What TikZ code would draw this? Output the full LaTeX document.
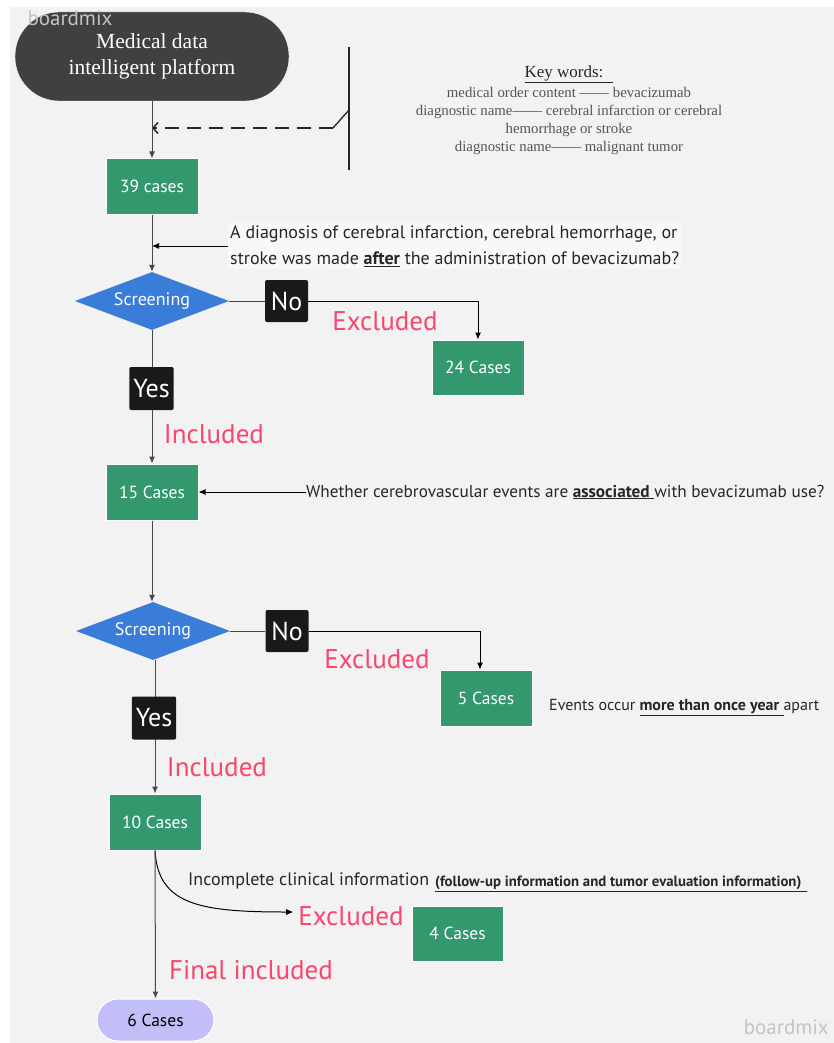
\documentclass[tikz,border=0pt]{standalone}
\usepackage{fontspec}
\setmainfont{PT Sans}
\newfontfamily\kwfont{Liberation Serif}
\usetikzlibrary{shapes.geometric, arrows.meta}
\definecolor{bggray}{HTML}{F2F2F2}
\definecolor{boxgreen}{HTML}{33986D}
\definecolor{diamblue}{HTML}{3A7DD8}
\definecolor{darkpill}{HTML}{404040}
\definecolor{exred}{HTML}{F8466C}
\definecolor{lavender}{HTML}{C2BFF8}
\definecolor{linegray}{HTML}{484848}
\definecolor{markgray}{HTML}{C4C4C4}
\definecolor{textdark}{HTML}{262626}
\definecolor{kwgray}{HTML}{555555}
\definecolor{hilite}{HTML}{F8F8FB}

\begin{document}
\begin{tikzpicture}[x=1pt, y=-1pt, every node/.style={inner sep=0pt},
             casebox/.style={draw=white, line width=1pt, fill=boxgreen, text=white,
                             minimum width=92pt, minimum height=56pt,
                             font=\fontsize{17.5}{20}\selectfont},
             screen/.style={shape=diamond, aspect=2.65, fill=diamblue, text=white,
                            minimum width=154pt, minimum height=58pt,
                            font=\fontsize{18}{20}\selectfont},
             answer/.style={fill=black!90, text=white, rounded corners=2pt, inner xsep=4pt,
                            minimum width=43pt, minimum height=42pt,
                            font=\fontsize{26}{28}\selectfont},
             outcome/.style={text=exred, font=\fontsize{27}{30}\selectfont},
             note/.style={text=textdark, align=left},
             flow/.style={draw=linegray, line width=1pt, -{Latex[length=7pt,width=6pt]}},
             link/.style={draw=linegray, line width=1pt}]
\useasboundingbox (0,0) rectangle (834,1043);
\fill [bggray] (10,7) rectangle (834,1043);

\node (start) at (152,56.5) [draw=white, fill=darkpill, text=white, rounded corners=44pt,
  minimum width=274pt, minimum height=89pt, align=center,
  font=\kwfont\fontsize{21.5}{26}\selectfont] {Medical data\\intelligent platform};

\node (c39) at (152,186.5) [casebox, minimum height=55pt] {39 cases};
\node (d1) at (152,301) [screen] {Screening};
\node (no1) at (286.5,301) [answer] {No};
\node (c24) at (478,367.5) [casebox, minimum height=55pt] {24 Cases};
\node (c15) at (152,492) [casebox] {15 Cases};
\node (d2) at (153,631) [screen] {Screening};
\node (no2) at (287,631) [answer] {No};
\node (c5) at (486,698) [casebox] {5 Cases};
\node (c10) at (155,822) [casebox] {10 Cases};
\node (c4) at (457.5,933.5) [casebox, minimum width=91pt, minimum height=55pt] {4 Cases};
\node (c6) at (155.5,1020) [draw=white, line width=1pt, fill=lavender, rounded corners=21pt,
  minimum width=117pt, minimum height=42pt, font=\fontsize{17.5}{20}\selectfont] {6 Cases};

\node (keys) at (569,74) [text=textdark, font=\kwfont\fontsize{17}{20}\selectfont]
  {\underline{Key words:\hspace{10pt}}};
\node (keylist) at (569,121) [text=kwgray, align=center, font=\kwfont\fontsize{14.8}{18}\selectfont]
  {medical order content —— bevacizumab\\
   diagnostic name—— cerebral infarction or cerebral\\
   hemorrhage or stroke\\
   diagnostic name—— malignant tumor};

\coordinate (bartop) at (349,47);
\coordinate (barbot) at (349,170);
\coordinate (barjoin) at (349,110);
\coordinate (kink) at (333,128);
\coordinate (dashend) at (start.south |- kink);
\draw [link, draw=black!85, line width=1.5pt] (bartop) -- (barbot);
\draw [link, draw=black!85, line width=1.3pt] (barjoin) -- (kink);
\draw [link, draw=black!85, line width=1.5pt, dash pattern=on 14pt off 8pt,
       -{Straight Barb[length=5pt,width=11pt]}] (kink) -- (dashend);
\draw [flow] (start) -- (c39);

\node (q1) at (228,246) [note, anchor=west, fill=hilite, inner sep=2pt,
  font=\fontsize{18}{26}\selectfont]
  {A diagnosis of cerebral infarction, cerebral hemorrhage, or\\
   stroke was made \underline{\textbf{after}} the administration of bevacizumab?};
\coordinate (q1end) at (c39.south |- q1.west);
\draw [flow] (c39) -- (d1);
\draw [flow, draw=black] (q1.west) -- (q1end);

\draw [link] (d1.east) -- (no1.west);
\draw [flow, draw=black] (no1.east) -| (c24.north);
\node (ex1) at (385,321) [outcome] {Excluded};

\draw [flow] (d1.south) -- (c15.north);
\node (yes1) at (151.5,388.5) [answer, minimum height=43pt] {Yes};
\node (in1) at (214,434) [outcome] {Included};

\node (q2) at (306,492) [note, anchor=west, font=\fontsize{17.2}{20}\selectfont]
  {Whether cerebrovascular events are \underline{\textbf{associated} }with bevacizumab use?};
\draw [flow, draw=black] (q2.west) -- (c15.east);

\draw [flow] (c15.south) -- (c15.south |- d2.north);

\draw [link] (d2.east) -- (no2.west);
\draw [flow, draw=black] (no2.east) -| ([xshift=-6pt]c5.north);
\node (ex2) at (377,659) [outcome] {Excluded};
\node (q3) at (549,708) [note, anchor=west, font=\fontsize{16}{19}\selectfont]
  {Events occur \underline{\textbf{more than once year} }apart};

\draw [flow] (d2.south -| c10.north) -- (c10.north);
\node (yes2) at (154,718) [answer, minimum height=43pt] {Yes};
\node (in2) at (217,767) [outcome] {Included};

\node (q4) at (188,881) [note, anchor=west, font=\fontsize{18}{20}\selectfont]
  {Incomplete clinical information};
\node (q4note) at (435,884) [note, anchor=west, font=\bfseries\fontsize{14.8}{16}\selectfont]
  {\underline{(follow-up information and tumor evaluation information)\hspace{6pt}}};
\node (ex3) at (351,916) [outcome] {Excluded};
\draw [flow, draw=black] (c10.south) .. controls (158,905) and (200,912) .. ([shift={(-5pt,4pt)}]ex3.west);

\draw [flow] (c10.south) -- (c6.north);
\node (fin) at (251,970) [outcome] {Final included};

\node (mark1) at (70,18) [text=markgray, font=\fontsize{21}{24}\selectfont] {boardmix};
\node (mark2) at (829,1027) [anchor=east, text=markgray, font=\fontsize{21}{24}\selectfont] {boardmix};
\end{tikzpicture}
\end{document}
